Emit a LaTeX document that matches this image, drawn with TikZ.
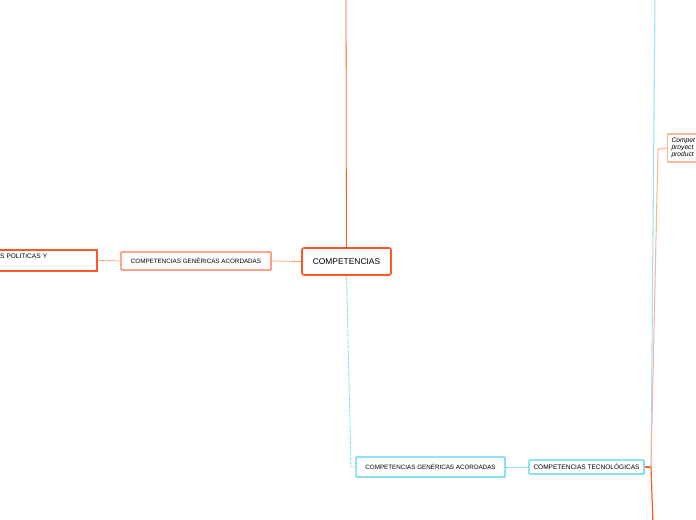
\documentclass[tikz,border=0pt]{standalone}
\usepackage{fontspec}
\setmainfont{Liberation Sans}
\usepackage{xcolor}
\usetikzlibrary{positioning,shadows}
\definecolor{mmorange}{RGB}{255,87,34}
\definecolor{mmsoft}{RGB}{255,120,80}
\definecolor{mmpeach}{RGB}{255,180,150}
\definecolor{mmcyan}{RGB}{85,215,240}
\definecolor{mmsky}{RGB}{150,230,245}
\definecolor{mmhub}{RGB}{235,105,55}

\begin{document}
\begin{tikzpicture}[x=0.75pt,y=-0.75pt, every node/.style={inner sep=0pt,font=\fontsize{4.9}{6}\selectfont}, shade/.style={drop shadow={opacity=0.25,shadow xshift=0.6pt,shadow yshift=-0.6pt}}, rootbox/.style={draw=mmorange,line width=1.2pt,rounded corners=1.5pt,fill=white,minimum width=66.75pt,minimum height=20.25pt,font=\fontsize{6.3}{7}\selectfont}, orbox/.style={draw=mmsoft,line width=0.9pt,rounded corners=0.6pt,fill=white,shade}, cybox/.style={draw=mmcyan,line width=1.1pt,rounded corners=0.6pt,fill=white,shade}, orlink/.style={mmorange,line width=0.6pt,dash pattern=on 0.6pt off 0.6pt}, cylink/.style={mmcyan,line width=0.7pt,dash pattern=on 0.6pt off 0.6pt}]
\useasboundingbox (0,0) rectangle (696,520);
\clip (0,0) rectangle (696,520);
\node[rootbox] (root) at (346.5,261.5) {COMPETENCIAS};
\node[orbox,minimum width=112.5pt,minimum height=13.5pt,font=\fontsize{4.7}{6}\selectfont] (genL) at (196,261) {COMPETENCIAS GENÉRICAS ACORDADAS};
\node[draw=mmorange,line width=1.1pt,minimum width=75.75pt,minimum height=15.75pt,inner xsep=3pt,text width=69.75pt,align=left] (pol) at (46.5,260.5) {S POLITICAS Y\\ \mbox{}};
\node[cybox,minimum width=111.75pt,minimum height=15pt,font=\fontsize{4.7}{6}\selectfont] (genR) at (430.5,467) {COMPETENCIAS GENÉRICAS ACORDADAS};
\node[cybox,line width=0.9pt,minimum width=86.25pt,minimum height=10.5pt] (tec) at (586.5,467) {COMPETENCIAS TECNOLÓGICAS};
\node[draw=mmpeach,line width=0.8pt,fill=white,minimum height=21pt,inner xsep=3pt,text width=50pt,align=left,font=\fontsize{5}{5.3}\selectfont\itshape,anchor=west] (comp) at (667,148) {Compet\\proyect\\product};
\coordinate (top) at (346,-5);
\coordinate (bend) at (351,467);
\coordinate (hub) at (651,467);
\coordinate (up) at (655,-5);
\coordinate (down) at (653,525);
\coordinate (knee) at (658,149);
% links
\draw[mmorange,line width=0.6pt] (root.north) -- (top);
\foreach \x/\y in {root/genL,genL/pol}{\draw[orlink] (\x.west)--(\y.east);}
\draw[cylink] (root.south) -- (bend) -- (genR.west);
\draw[cylink] (genR.east) -- (tec.west);
\draw[mmhub,line width=0.9pt] (tec.east) -- (hub);
\draw[mmsky,line width=0.8pt] (hub) -- (up);
\draw[mmpeach,line width=0.8pt] (hub) -- (knee) -- (comp.west);
\draw[mmorange,line width=0.9pt] (hub) -- (down);
\end{tikzpicture}
\end{document}
